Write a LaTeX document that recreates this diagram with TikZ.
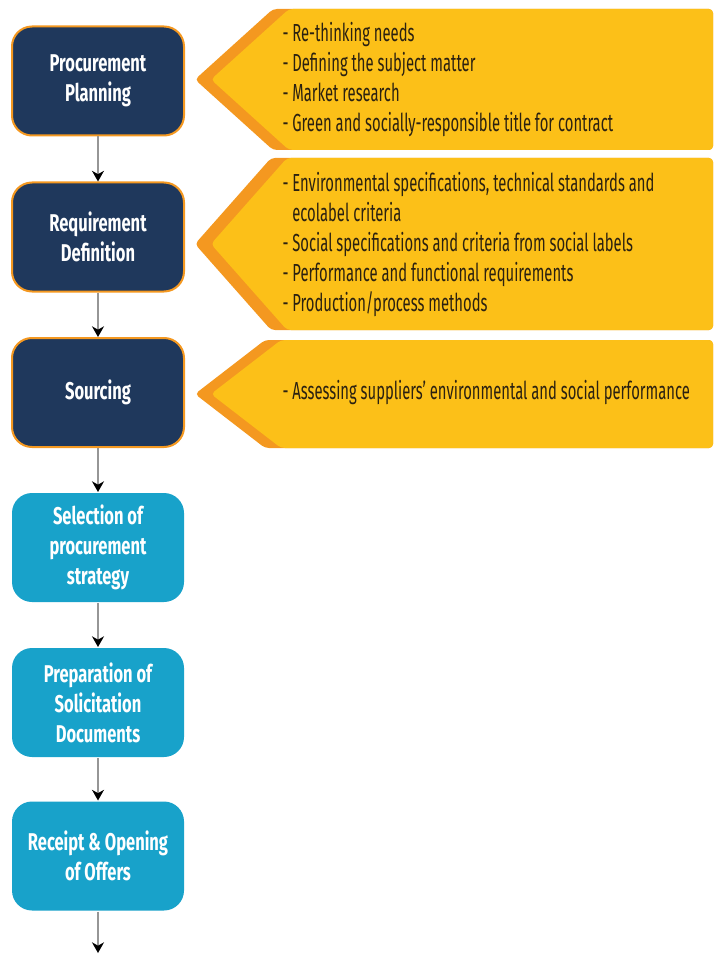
\documentclass[tikz,border=0pt]{standalone}
\usepackage{fontspec}
\setmainfont{Fira Sans}
\newfontfamily\titlefont[FakeStretch=0.68]{Fira Sans}
\newfontfamily\notefont[FakeStretch=0.60]{Fira Sans}
\usetikzlibrary{arrows.meta}

\definecolor{navyfill}{RGB}{31,56,92}
\definecolor{cyanfill}{RGB}{24,162,202}
\definecolor{ambfill}{RGB}{252,192,24}
\definecolor{ambedge}{RGB}{244,152,32}
\definecolor{notetxt}{RGB}{43,33,17}
\definecolor{linegray}{RGB}{150,150,150}

\tikzset{every picture/.style={line width=0.75pt}}
\tikzset{
  darkbox/.style={rounded corners=15pt, fill=navyfill, draw=ambedge, line width=1.5pt,
    minimum width=129pt, minimum height=81.75pt, align=center, text=white,
    font=\titlefont\bfseries\fontsize{18.2}{22.5}\selectfont},
  lightbox/.style={darkbox, fill=cyanfill, draw=none},
  conn/.style={draw=linegray, line width=1.1pt, -{Stealth[black, length=8pt, width=9pt, inset=2.5pt]}},
  notetext/.style={anchor=west, align=left, inner sep=0pt, text=notetxt,
    font=\notefont\fontsize{18.5}{22.5}\selectfont}
}

\begin{document}
\begin{tikzpicture}[x=0.75pt,y=0.75pt,yscale=-1,xscale=1]
	\useasboundingbox (0,0) rectangle (713,955);
	
	%Shape: Chevron [id:planning notes] 
	\fill [ambedge, rounded corners=3pt] (713,9) -- (273,9) -- (195,79.5) -- (273,150) -- (713,150) -- cycle ;
	\fill [ambfill, rounded corners=3pt] (713,9) -- (289,9) -- (211,79.5) -- (289,150) -- (713,150) -- cycle ;
	%Shape: Chevron [id:requirement notes] 
	\fill [ambedge, rounded corners=3pt] (713,158) -- (271,158) -- (195,244) -- (271,330) -- (713,330) -- cycle ;
	\fill [ambfill, rounded corners=3pt] (713,158) -- (287,158) -- (211,244) -- (287,330) -- (713,330) -- cycle ;
	%Shape: Chevron [id:sourcing notes] 
	\fill [ambedge, rounded corners=3pt] (713,340) -- (265,340) -- (195,394) -- (265,448) -- (713,448) -- cycle ;
	\fill [ambfill, rounded corners=3pt] (713,340) -- (281,340) -- (211,394) -- (281,448) -- (713,448) -- cycle ;
	
	% Text Node
	\node [notetext] (plannotes) at (282,79.5) {- Re-thinking needs\\- Defining the subject matter\\- Market research\\- Green and socially-responsible title for contract};
	% Text Node
	\node [notetext] (reqnotes) at (282,245) {- Environmental specifications, technical standards and\\\phantom{- }ecolabel criteria\\- Social specifications and criteria from social labels\\- Performance and functional requirements\\- Production/process methods};
	% Text Node
	\node [notetext] (srcnotes) at (282,393) {- Assessing suppliers’ environmental and social performance};
	
	%Rounded Rect [id:steps] 
	\node [darkbox] (plan) at (98,81) {Procurement\\Planning};
	\node [darkbox] (reqdef) at (98,237) {Requirement\\Definition};
	\node [darkbox] (source) at (98,392.5) {Sourcing};
	\node [lightbox] (strategy) at (98,547.5) {Selection of\\procurement\\strategy};
	\node [lightbox] (prepare) at (98,702.5) {Preparation of\\Solicitation\\Documents};
	\node [lightbox] (receipt) at (98,856) {Receipt \& Opening\\of Offers};
	\coordinate (next) at (98,953);
	
	%Straight Lines [id:flow] 
	\draw [conn] (plan) -- (reqdef) ;
	\draw [conn] (reqdef) -- (source) ;
	\draw [conn] (source) -- (strategy) ;
	\draw [conn] (strategy) -- (prepare) ;
	\draw [conn] (prepare) -- (receipt) ;
	\draw [conn] (receipt) -- (next) ;
	
\end{tikzpicture}
\end{document}
